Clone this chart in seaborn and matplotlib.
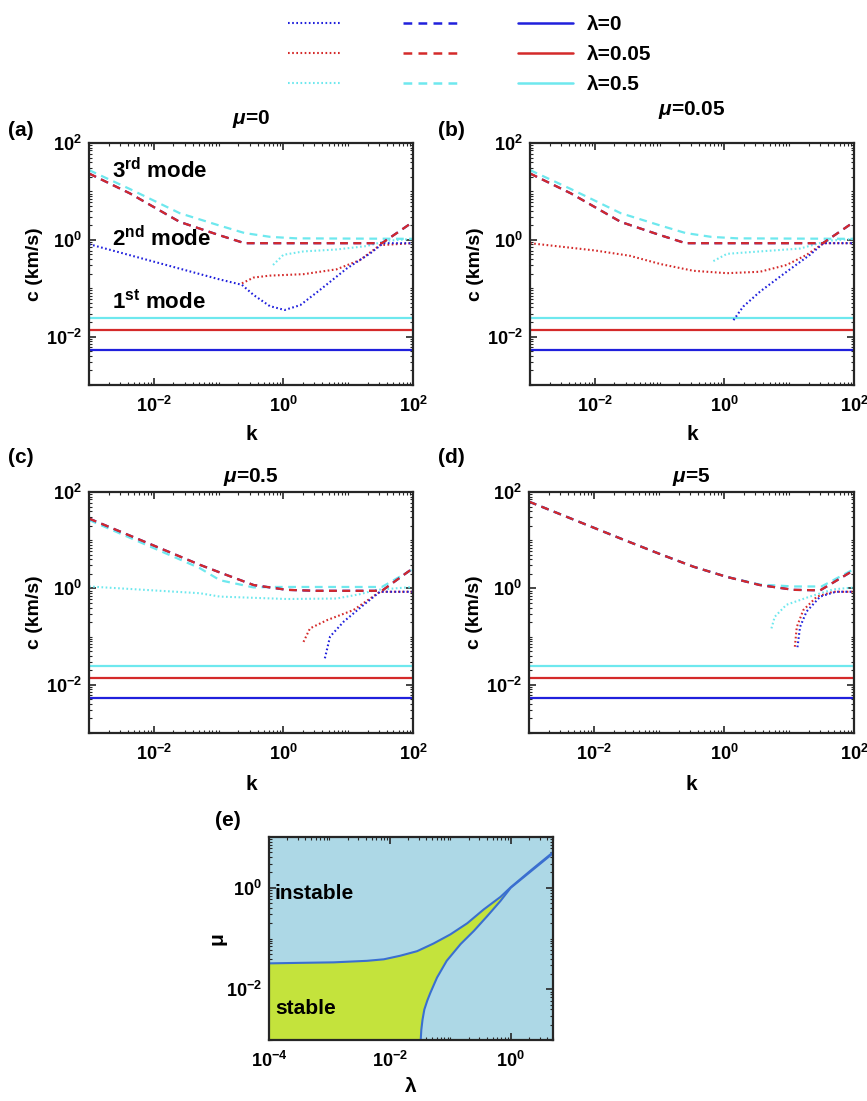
import numpy as np
import matplotlib
matplotlib.use("Agg")
import matplotlib.pyplot as plt
from matplotlib.lines import Line2D
from matplotlib.ticker import LogLocator, NullFormatter
import seaborn as sns

sns.set_style("ticks")
plt.rcParams['font.family'] = ['Liberation Sans', 'DejaVu Sans']
plt.rcParams['font.weight'] = 'bold'
plt.rcParams['axes.labelweight'] = 'bold'
plt.rcParams['axes.titleweight'] = 'bold'
plt.rcParams['axes.unicode_minus'] = False
plt.rcParams['mathtext.fontset'] = 'custom'
plt.rcParams['mathtext.it'] = 'Liberation Sans:italic:bold'
plt.rcParams['mathtext.rm'] = 'Liberation Sans:bold'
plt.rcParams['mathtext.bf'] = 'Liberation Sans:bold'
plt.rcParams['text.color'] = 'black'
plt.rcParams['axes.labelcolor'] = 'black'
plt.rcParams['xtick.labelcolor'] = 'black'
plt.rcParams['ytick.labelcolor'] = 'black'

# ==========================================
# DATA (log10 values)
# ==========================================
lambdas = ["0", "0.05", "0.5"]
mus = ["0", "0.05", "0.5", "5"]
panel_tags = ["(a)", "(b)", "(c)", "(d)"]

# 1st mode: constant c for each lambda (blue, red, cyan)
c_first = [0.0053, 0.014, 0.0246]

# panel (a) mu=0
a_dash_logk = [-3, -2.37, -1.6, -1.0, -0.67, -0.6, 1.52, 1.75, 2.0]
a_dash_logc = [1.37, 0.96, 0.37, 0.1, -0.04, -0.07, -0.07, 0.14, 0.37]
a_dash_cyan_logk = [-3, -2.37, -1.6, -1.0, -0.6, -0.2, 0.2, 2.0]
a_dash_cyan_logc = [1.44, 1.05, 0.55, 0.3, 0.14, 0.06, 0.03, 0.02]
a_dot_blue_logk = [-3, -0.98, -0.64, -0.46, -0.21, 0.02, 0.26, 0.56, 0.98, 1.34, 1.54, 2.0]
a_dot_blue_logc = [-0.09, -0.82, -0.93, -1.14, -1.37, -1.45, -1.35, -1.04, -0.59, -0.28, -0.07, -0.07]
a_dot_red_logk = [-0.64, -0.46, -0.21, 0.31, 0.82, 1.18, 1.49, 2.0]
a_dot_red_logc = [-0.9, -0.78, -0.74, -0.71, -0.61, -0.42, -0.11, -0.07]
a_dot_cyan_logk = [-0.16, 0.0, 0.31, 0.82, 1.28, 1.6, 2.0]
a_dot_cyan_logc = [-0.52, -0.31, -0.24, -0.2, -0.13, -0.02, 0.02]

# panel (b) mu=0.05
b_dash_logk = a_dash_logk
b_dash_logc = a_dash_logc
b_dash_cyan_logk = a_dash_cyan_logk
b_dash_cyan_logc = a_dash_cyan_logc
b_dot_blue_logk = [0.14, 0.29, 0.55, 0.96, 1.32, 1.53, 2.0]
b_dot_blue_logc = [-1.66, -1.38, -1.07, -0.66, -0.31, -0.07, -0.07]
b_dot_red_logk = [-3, -2, -1.46, -0.99, -0.48, 0.04, 0.55, 0.96, 1.27, 1.53, 2.0]
b_dot_red_logc = [-0.07, -0.22, -0.33, -0.5, -0.64, -0.69, -0.66, -0.52, -0.31, -0.07, -0.07]
b_dot_cyan_logk = [-0.17, 0.04, 0.55, 1.17, 1.6, 2.0]
b_dot_cyan_logc = [-0.44, -0.29, -0.24, -0.18, -0.02, 0.02]

# panel (c) mu=0.5
c_dash_logk = [-3, -1.29, -0.98, -0.46, 0.05, 0.5, 1.52, 2.0]
c_dash_logc = [1.45, 0.49, 0.33, 0.07, -0.03, -0.05, -0.05, 0.42]
c_dash_cyan_logk = [-3, -1.29, -0.98, -0.46, -0.2, 1.52, 2.0]
c_dash_cyan_logc = [1.42, 0.42, 0.17, 0.02, 0.03, 0.03, 0.40]
c_dot_blue_logk = [0.64, 0.72, 0.93, 1.24, 1.49, 2.0]
c_dot_blue_logc = [-1.45, -1.0, -0.69, -0.34, -0.07, -0.07]
c_dot_red_logk = [0.31, 0.41, 0.67, 1.08, 1.49, 2.0]
c_dot_red_logc = [-1.11, -0.83, -0.66, -0.45, -0.07, -0.07]
c_dot_cyan_logk = [-3, -1.29, -0.98, 0.05, 0.82, 1.18, 1.44, 2.0]
c_dot_cyan_logc = [0.04, -0.1, -0.17, -0.22, -0.21, -0.12, -0.03, 0.03]

# panel (d) mu=5
d_dash_logk = [-3, -1.6, -0.98, -0.47, 0.04, 0.55, 1.07, 1.48, 1.58, 2.0]
d_dash_logc = [1.8, 1.04, 0.71, 0.45, 0.24, 0.07, -0.03, -0.04, 0.04, 0.38]
d_dash_cyan_logk = [-3, -1.6, -0.98, -0.47, 0.04, 0.55, 1.07, 1.5, 2.0]
d_dash_cyan_logc = [1.8, 1.04, 0.71, 0.45, 0.24, 0.08, 0.04, 0.04, 0.40]
d_dot_blue_logk = [1.13, 1.17, 1.27, 1.48, 1.72, 2.0]
d_dot_blue_logc = [-1.22, -0.8, -0.48, -0.17, -0.07, -0.07]
d_dot_red_logk = [1.09, 1.12, 1.22, 1.43, 1.68, 2.0]
d_dot_red_logc = [-1.21, -0.8, -0.45, -0.17, -0.07, -0.07]
d_dot_cyan_logk = [0.73, 0.78, 0.96, 1.32, 1.68, 2.0]
d_dot_cyan_logc = [-0.83, -0.59, -0.34, -0.17, -0.02, 0.02]

# panel (e) stability boundary (log10 lambda, log10 mu)
e_upper_loglam = [-4, -3.49, -2.93, -2.38, -2.10, -1.83, -1.55, -1.28, -1.0, -0.72, -0.45, -0.17, 0.0, 0.35, 0.70]
e_upper_logmu = [-1.49, -1.48, -1.47, -1.44, -1.41, -1.34, -1.25, -1.10, -0.92, -0.70, -0.43, -0.18, 0.01, 0.36, 0.70]
e_lower_loglam = [-1.49, -1.48, -1.46, -1.43, -1.38, -1.33, -1.22, -1.06, -0.83, -0.61, -0.39, -0.17, 0.0, 0.35, 0.70]
e_lower_logmu = [-3.0, -2.8, -2.6, -2.4, -2.22, -2.07, -1.77, -1.44, -1.11, -0.85, -0.56, -0.26, 0.0, 0.34, 0.68]

# ==========================================
# STYLE
# ==========================================
BLUE, RED, CYAN = '#2020dc', '#d42a2a', '#6ee8ee'
colors = [BLUE, RED, CYAN]
DOT = (0, (0.8, 1.2))
DASH = (0, (3.5, 2.5))
SPINE = '#262626'

fig = plt.figure(figsize=(8.67, 11.01), dpi=100)
W, H = 867.0, 1101.0


def px_axes(x0, y0, x1, y1):
    return fig.add_axes([x0 / W, 1 - y1 / H, (x1 - x0) / W, (y1 - y0) / H])


def style_log_axes(ax, xlim, ylim):
    ax.set_xscale('log')
    ax.set_yscale('log')
    ax.set_xlim(*xlim)
    ax.set_ylim(*ylim)
    for a in (ax.xaxis, ax.yaxis):
        a.set_major_locator(LogLocator(base=100, numticks=20))
        a.set_minor_locator(LogLocator(base=10, subs=np.arange(1, 10) * 1.0, numticks=100))
        a.set_minor_formatter(NullFormatter())
    ax.tick_params(which='both', direction='in', top=True, right=True, color=SPINE)
    ax.tick_params(which='major', length=5, width=1.2, labelsize=13)
    ax.tick_params(axis='x', which='major', pad=8)
    ax.tick_params(axis='y', which='major', pad=5)
    ax.tick_params(which='minor', length=2.5, width=0.8)
    for s in ax.spines.values():
        s.set_color(SPINE)
        s.set_linewidth(1.6)
    for lab in ax.get_xticklabels() + ax.get_yticklabels():
        lab.set_fontweight('bold')


def draw(ax, logk, logc, color, ls, lw):
    sns.lineplot(x=10 ** np.array(logk), y=10 ** np.array(logc), ax=ax, color=color,
                 linestyle=ls, linewidth=lw, sort=False, estimator=None)


panels = [
    (a_dash_logk, a_dash_logc, a_dash_cyan_logk, a_dash_cyan_logc,
     [(a_dot_blue_logk, a_dot_blue_logc), (a_dot_red_logk, a_dot_red_logc), (a_dot_cyan_logk, a_dot_cyan_logc)]),
    (b_dash_logk, b_dash_logc, b_dash_cyan_logk, b_dash_cyan_logc,
     [(b_dot_blue_logk, b_dot_blue_logc), (b_dot_red_logk, b_dot_red_logc), (b_dot_cyan_logk, b_dot_cyan_logc)]),
    (c_dash_logk, c_dash_logc, c_dash_cyan_logk, c_dash_cyan_logc,
     [(c_dot_blue_logk, c_dot_blue_logc), (c_dot_red_logk, c_dot_red_logc), (c_dot_cyan_logk, c_dot_cyan_logc)]),
    (d_dash_logk, d_dash_logc, d_dash_cyan_logk, d_dash_cyan_logc,
     [(d_dot_blue_logk, d_dot_blue_logc), (d_dot_red_logk, d_dot_red_logc), (d_dot_cyan_logk, d_dot_cyan_logc)]),
]

boxes = [(89, 143, 413, 385), (530, 143, 854, 385), (89, 492, 413, 733), (529, 492, 854, 733)]
title_pads = [14, 20, 7, 7]
xlabel_pads = [6, 6, 8, 8]
tag_pos = [(8, 130), (438, 130), (8, 458), (438, 458)]

for i, (dk, dc, dck, dcc, dots) in enumerate(panels):
    ax = px_axes(*boxes[i])
    style_log_axes(ax, (1e-3, 1e2), (1e-3, 1e2))
    for c, col in zip(c_first, colors):
        ax.axhline(c, color=col, lw=1.6)
    for (lk, lc), col in zip(dots[::-1], colors[::-1]):
        draw(ax, lk, lc, col, DOT, 1.5)
    draw(ax, dck, dcc, CYAN, DASH, 1.6)
    draw(ax, dk, dc, BLUE, DASH, 1.6)
    draw(ax, dk, dc, RED, DASH, 1.6)
    ax.set_title(r'$\mu$=' + mus[i], fontsize=15, fontweight='bold', pad=title_pads[i])
    ax.set_ylabel('c (km/s)', fontsize=14, labelpad=2)
    ax.set_xlabel('k', fontsize=15, labelpad=xlabel_pads[i])
    fig.text(tag_pos[i][0] / W, 1 - tag_pos[i][1] / H, panel_tags[i], fontsize=15,
             fontweight='bold', va='center', ha='left')
    if i == 0:
        ax.text(0.071, 0.888, r'3$^{\mathdefault{rd}}$ mode', transform=ax.transAxes,
                fontsize=16, fontweight='bold', va='center')
        ax.text(0.071, 0.607, r'2$^{\mathdefault{nd}}$ mode', transform=ax.transAxes,
                fontsize=16, fontweight='bold', va='center')
        ax.text(0.071, 0.343, r'1$^{\mathdefault{st}}$ mode', transform=ax.transAxes,
                fontsize=16, fontweight='bold', va='center')

# ==========================================
# PANEL (e) STABILITY MAP
# ==========================================
ax = px_axes(269, 837, 553, 1040)
style_log_axes(ax, (1e-4, 5), (1e-3, 10))
ax.set_facecolor('#add8e6')
up_l = np.array(e_upper_loglam)
up_m = np.array(e_upper_logmu)
lo_l = np.array(e_lower_loglam)
lo_m = np.array(e_lower_logmu)
keep_u = up_l <= 0.0
keep_l = lo_l <= 0.0
poly_l = np.concatenate([up_l[keep_u], lo_l[keep_l][::-1], [up_l[0]]])
poly_m = np.concatenate([up_m[keep_u], lo_m[keep_l][::-1], [lo_m[0]]])
ax.fill(10 ** poly_l, 10 ** poly_m, color='#c4e33c', lw=0)
draw(ax, e_upper_loglam, e_upper_logmu, '#3a6fd0', '-', 1.5)
draw(ax, e_lower_loglam, e_lower_logmu, '#3a6fd0', '-', 1.5)
ax.set_xlabel('λ', fontsize=15, labelpad=4)
ax.set_ylabel('μ', fontsize=15, labelpad=0)
ax.text(0.021, 0.724, 'instable', transform=ax.transAxes, fontsize=15, fontweight='bold', va='center')
ax.text(0.021, 0.153, 'stable', transform=ax.transAxes, fontsize=15, fontweight='bold', va='center')
fig.text(215 / W, 1 - 820 / H, '(e)', fontsize=15, fontweight='bold', va='center', ha='left')

# ==========================================
# LEGEND
# ==========================================
handles, labels = [], []
for ls in (DOT, DASH, '-'):
    for col, lam in zip(colors, lambdas):
        handles.append(Line2D([], [], color=col, linestyle=ls, lw=1.8 if ls != DOT else 1.5))
        labels.append('λ=' + lam if ls == '-' else '')
fig.legend(handles, labels, ncol=3, loc='upper left', bbox_to_anchor=(288 / W, 1 - 15 / H),
           frameon=False, prop={'size': 15, 'weight': 'bold'}, handlelength=2.6,
           handletextpad=0.67, columnspacing=2.26, labelspacing=0.54, borderpad=0,
           borderaxespad=0)

fig.savefig('out.png', dpi=100)
